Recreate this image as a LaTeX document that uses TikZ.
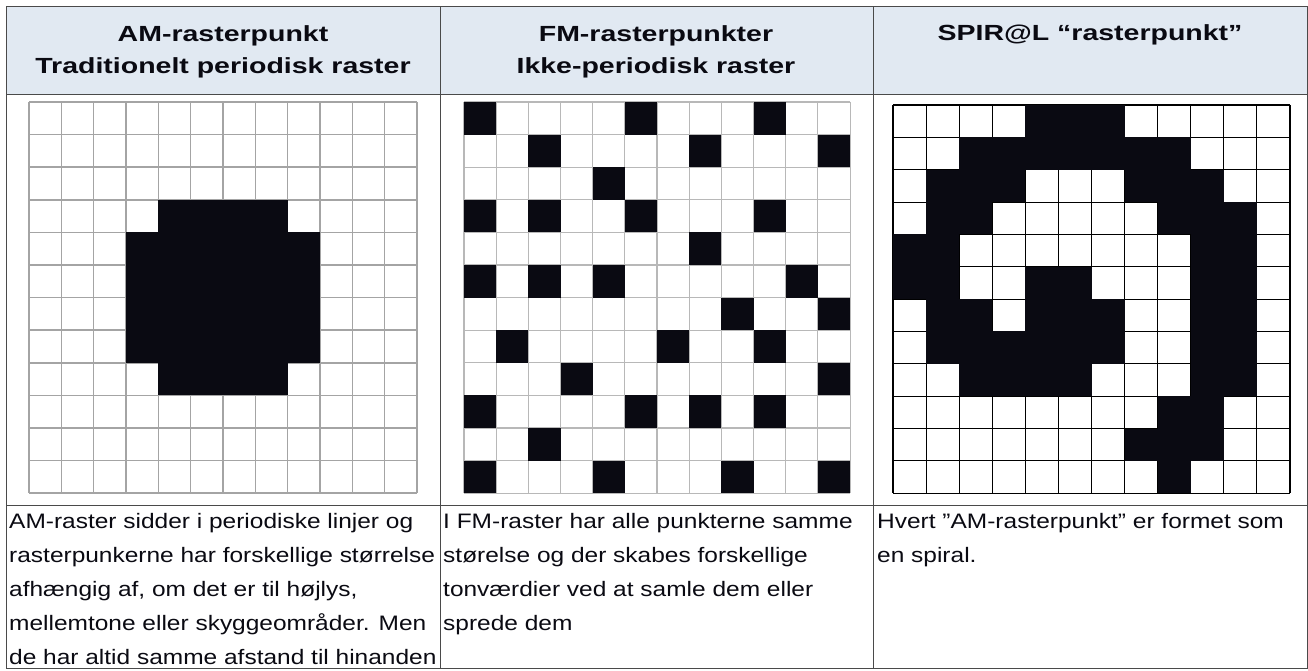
\documentclass[tikz,border=0pt]{standalone}
\usepackage{fontspec}
\setmainfont{Liberation Sans}
\newfontfamily\hovedfont[FakeStretch=1.3]{Liberation Sans}
\newfontfamily\brodfont[FakeStretch=1.17]{Liberation Sans}
\usetikzlibrary{positioning}
\definecolor{rasterBlaa}{HTML}{E1E9F2}
\definecolor{rasterRamme}{HTML}{4A4A4A}
\definecolor{rasterGraa}{HTML}{A4A4A4}
\definecolor{rasterLys}{HTML}{B8B8B8}
\definecolor{rasterSort}{HTML}{0A0A12}
\tikzset{
  ramme/.style={draw=rasterRamme, line width=1pt},
  overskrift/.style={anchor=base, align=center, inner sep=0pt, text=rasterSort,
    font=\hovedfont\bfseries\fontsize{22}{33}\selectfont},
  brodtekst/.style={anchor=base west, align=left, inner sep=0pt, text=rasterSort,
    font=\brodfont\fontsize{21}{34.2}\selectfont},
  gitterAM/.style={draw=rasterGraa, line width=1.6pt},
  gitterFM/.style={draw=rasterLys, line width=1.1pt},
  gitterSpiral/.style={draw=black, line width=1.1pt},
  felt/.style={fill=rasterSort},
}
\newcommand{\rastergitter}[1]{%
  \foreach \i in {0,...,12} {
    \draw[#1] (\i,0) -- (\i,12);
    \draw[#1] (0,\i) -- (12,\i);
  }}

\begin{document}
\begin{tikzpicture}[x=1bp, y=-1bp]
    \useasboundingbox (0,0) rectangle (1308,670);
    \fill[white] (0,0) rectangle (1308,670);
    \fill[rasterBlaa] (6,7) rectangle (1307,94);

    \begin{scope}[shift={(29,102)}, x=32.33bp, y=-32.6bp]
      \rastergitter{gitterAM}
      \fill[felt] (4,3) rectangle (8,9);
      \fill[felt] (3,4) rectangle (9,8);
    \end{scope}

    \begin{scope}[shift={(464,102)}, x=32.17bp, y=-32.6bp]
      \rastergitter{gitterFM}
      \foreach \k/\r in {0/0,5/0,9/0, 2/1,7/1,11/1, 4/2, 0/3,2/3,5/3,9/3,
          7/4, 0/5,2/5,4/5,10/5, 8/6,11/6, 1/7,6/7,9/7, 3/8,11/8,
          0/9,5/9,7/9,9/9, 2/10, 0/11,4/11,8/11,11/11}
        \fill[felt] (\k,\r) rectangle ++(1,1);
    \end{scope}

    \begin{scope}[shift={(893,105)}, x=33.08bp, y=-32.35bp]
      \rastergitter{gitterSpiral}
      \foreach \r/\a/\b in {0/4/6, 1/2/8, 2/1/3, 2/7/9, 3/1/2, 3/8/10, 4/0/1,
          4/9/10, 5/0/1, 5/4/5, 5/9/10, 6/1/2, 6/4/6, 6/9/10, 7/1/6, 7/9/10,
          8/2/5, 8/9/10, 9/8/9, 10/7/9, 11/8/8}
        \fill[felt] (\a,\r) rectangle ({\b+1},{\r+1});
    \end{scope}

    \draw[ramme] (6,7) rectangle (1307,668);
    \draw[ramme] (6,94) -- (1307,94);
    \draw[ramme] (6,505) -- (1307,505);
    \draw[ramme] (440,7) -- (440,668);
    \draw[ramme] (873,7) -- (873,668);

    \node[overskrift] (hovedAM)     at (223,74)  {AM-rasterpunkt\\Traditionelt periodisk raster};
    \node[overskrift] (hovedFM)     at (656,74)  {FM-rasterpunkter\\Ikke-periodisk raster};
    \node[overskrift] (hovedSpiral) at (1090,41) {SPIR@L “rasterpunkt”};

    \node[brodtekst] (tekstAM) at (9,664.8)
      {AM-raster sidder i periodiske linjer og\\rasterpunkerne har forskellige størrelse\\afhængig af, om det er til højlys,\\mellemtone eller skyggeområder. Men\\de har altid samme afstand til hinanden};
    \node[brodtekst] (tekstFM) at (443,630.6)
      {I FM-raster har alle punkterne samme\\størelse og der skabes forskellige\\tonværdier ved at samle dem eller\\sprede dem};
    \node[brodtekst] (tekstSpiral) at (877,562.2)
      {Hvert ”AM-rasterpunkt” er formet som\\en spiral.};
  \end{tikzpicture}
\end{document}
